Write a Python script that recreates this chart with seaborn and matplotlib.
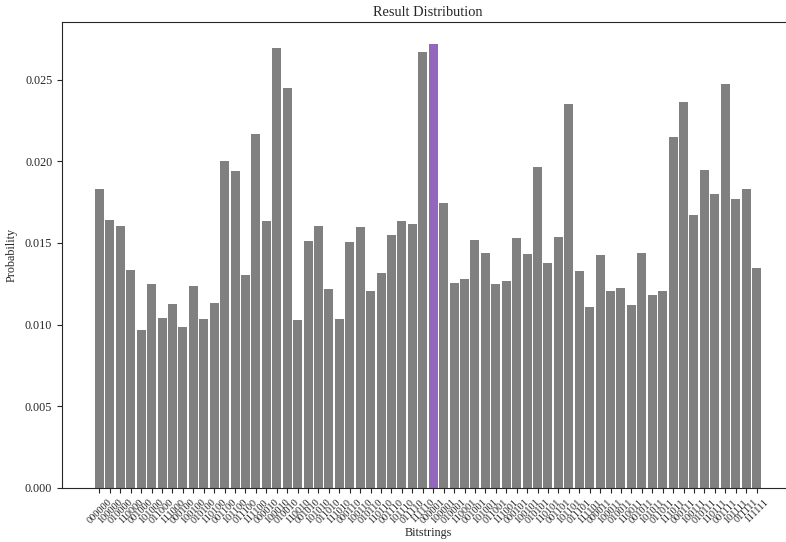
import matplotlib
matplotlib.use("Agg")
import matplotlib.pyplot as plt
import seaborn as sns
import pandas as pd

# 6-bit outcomes, listed with the lowest qubit first
bitstrings = [format(i, "06b")[::-1] for i in range(64)]

probabilities = [
    0.01832, 0.01642, 0.01605, 0.01336, 0.00969, 0.01250, 0.01042, 0.01128,
    0.00987, 0.01238, 0.01036, 0.01134, 0.02003, 0.01942, 0.01306, 0.02168,
    0.01636, 0.02695, 0.02450, 0.01030, 0.01514, 0.01605, 0.01220, 0.01036,
    0.01508, 0.01599, 0.01208, 0.01318, 0.01551, 0.01636, 0.01618, 0.02671,
    0.02719, 0.01746, 0.01256, 0.01281, 0.01520, 0.01440, 0.01250, 0.01268,
    0.01532, 0.01434, 0.01967, 0.01379, 0.01538, 0.02352, 0.01330, 0.01110,
    0.01428, 0.01208, 0.01226, 0.01122, 0.01440, 0.01183, 0.01208, 0.02150,
    0.02364, 0.01673, 0.01948, 0.01801, 0.02475, 0.01771, 0.01832, 0.01348,
]

target = "000001"
base_color = "#808080"
highlight_color = "#9467bd"

df = pd.DataFrame({"Bitstrings": bitstrings, "Probability": probabilities})
palette = {b: (highlight_color if b == target else base_color) for b in bitstrings}

sns.set_style("ticks")
plt.rcParams["font.family"] = ["Liberation Serif", "DejaVu Serif"]

fig = plt.figure(figsize=(7.86, 5.42), dpi=100)
ax = fig.add_axes([62 / 786, 54 / 542, 732 / 786, 466 / 542])

sns.barplot(
    data=df, x="Bitstrings", y="Probability", hue="Bitstrings",
    palette=palette, legend=False, width=0.86, saturation=1,
    linewidth=0, ax=ax, order=bitstrings,
)

ax.set_xlim(-3.595, 66.595)
ax.set_ylim(0, 0.02852)
ax.set_yticks([0, 0.005, 0.01, 0.015, 0.02, 0.025])
ax.set_yticklabels(["0.000", "0.005", "0.010", "0.015", "0.020", "0.025"], fontsize=8.7)
ax.set_xticks(range(len(bitstrings)))
ax.set_xticklabels(bitstrings, rotation=45, fontsize=7.5)
ax.set_xlabel("Bitstrings", fontsize=8.7, labelpad=1)
ax.set_ylabel("Probability", fontsize=8.7, labelpad=5)
ax.set_title("Result Distribution", fontsize=10.4, pad=4)

fig.savefig("out.png", dpi=100)
